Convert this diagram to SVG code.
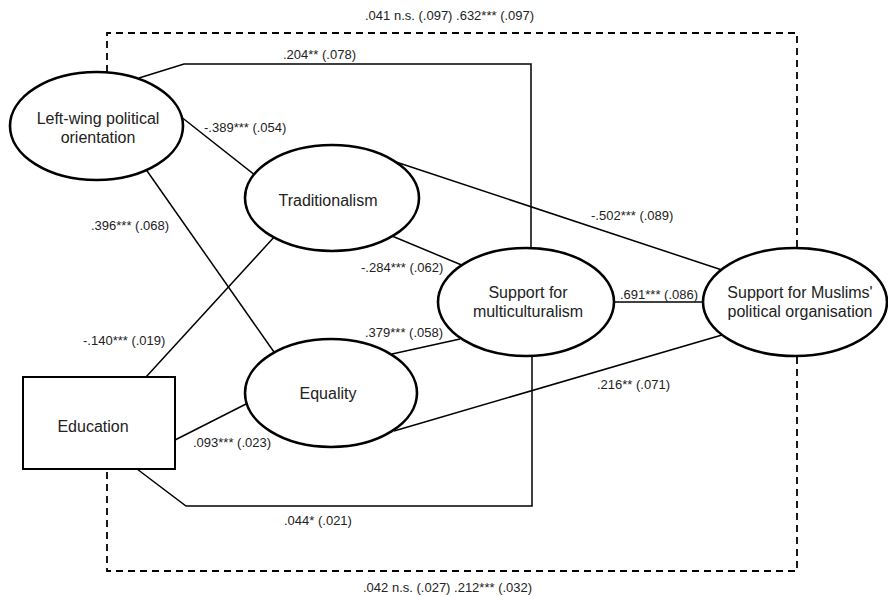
<svg xmlns="http://www.w3.org/2000/svg" width="888" height="596" viewBox="0 0 888 596">
<style>
.bg{fill:#fff}
.node{fill:#fff;stroke:#000;stroke-width:2.6}
.box{fill:#fff;stroke:#000;stroke-width:2}
.c{fill:none;stroke:#000;stroke-width:1.5}
.d{fill:none;stroke:#000;stroke-width:1.8;stroke-dasharray:7,5}
.t{font-family:"Liberation Sans",Arial,sans-serif;font-size:16px;fill:#222;text-anchor:middle}
.l{font-family:"Liberation Sans",Arial,sans-serif;font-size:13px;fill:#222}
</style>
<rect class="bg" x="0" y="0" width="888" height="596"/>
<g id="connectors">
  <polyline class="d" points="107,72 107,33 797,33 797,248"/>
  <polyline class="d" points="797,357 797,571 107,571 107,469"/>
  <polyline class="c" points="139,78 184,64 531,64 531,250"/>
  <line class="c" x1="180" y1="116" x2="256" y2="176"/>
  <line class="c" x1="145" y1="168" x2="274" y2="352"/>
  <line class="c" x1="146" y1="377" x2="276" y2="235"/>
  <line class="c" x1="175" y1="440" x2="248" y2="403"/>
  <polyline class="c" points="137,469 186,506 532,506 532,354"/>
  <line class="c" x1="392" y1="236" x2="464" y2="266"/>
  <line class="c" x1="392" y1="354" x2="460" y2="339"/>
  <line class="c" x1="396" y1="162" x2="722" y2="270"/>
  <line class="c" x1="612" y1="302" x2="704" y2="302"/>
  <line class="c" x1="394" y1="431" x2="722" y2="335"/>
</g>
<g id="labels">
  <text class="l" x="365" y="20">.041 n.s. (.097) .632*** (.097)</text>
  <text class="l" x="283" y="59">.204** (.078)</text>
  <text class="l" x="204" y="132">-.389*** (.054)</text>
  <text class="l" x="91" y="230">.396*** (.068)</text>
  <text class="l" x="591" y="220">-.502*** (.089)</text>
  <text class="l" x="361" y="272">-.284*** (.062)</text>
  <text class="l" x="620" y="299">.691*** (.086)</text>
  <text class="l" x="365" y="337">.379*** (.058)</text>
  <text class="l" x="83" y="345">-.140*** (.019)</text>
  <text class="l" x="597" y="389">.216** (.071)</text>
  <text class="l" x="193" y="447">.093*** (.023)</text>
  <text class="l" x="284" y="525">.044* (.021)</text>
  <text class="l" x="363" y="592">.042 n.s. (.027) .212*** (.032)</text>
</g>
<g id="leftwing">
  <ellipse class="node" cx="96.5" cy="126" rx="86.5" ry="54"/>
  <text class="t" x="98" y="124">Left-wing political</text>
  <text class="t" x="98" y="143">orientation</text>
</g>
<g id="traditionalism">
  <ellipse class="node" cx="332" cy="198" rx="87" ry="53"/>
  <text class="t" x="328" y="206">Traditionalism</text>
</g>
<g id="equality">
  <ellipse class="node" cx="331" cy="393" rx="86" ry="54"/>
  <text class="t" x="328" y="399">Equality</text>
</g>
<g id="multiculturalism">
  <ellipse class="node" cx="526" cy="302" rx="88" ry="54"/>
  <text class="t" x="528" y="298">Support for</text>
  <text class="t" x="528" y="317">multiculturalism</text>
</g>
<g id="muslims">
  <ellipse class="node" cx="795" cy="302" rx="92" ry="54"/>
  <text class="t" x="800" y="298">Support for Muslims'</text>
  <text class="t" x="800" y="317">political organisation</text>
</g>
<g id="education">
  <rect class="box" x="23" y="377" width="152" height="92"/>
  <text class="t" x="93" y="432">Education</text>
</g>
</svg>
